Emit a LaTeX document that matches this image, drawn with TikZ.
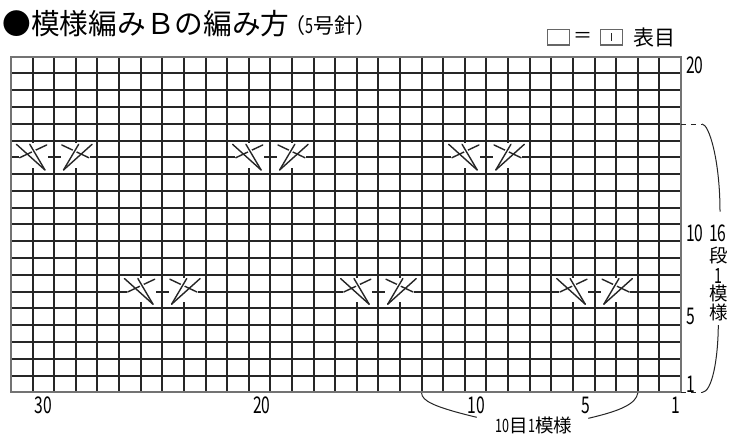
\documentclass[tikz,border=0pt]{standalone}
\usepackage{fontspec}
\usepackage{graphicx}
\setmainfont{Noto Sans CJK JP}
\newcommand\fsz[1]{\fontsize{#1pt}{#1pt}\selectfont}
\newcommand\nd[1]{\scalebox{0.68}[1]{#1}}
\newcommand\knithalf{%
  \fill[white] (-1.64,0.36) rectangle (-0.31,1.84);
  \draw[sym] (-1.6,0.98) -- (-0.35,1.74);
  \draw[sym, halo] (-1.13,1.78) -- (-0.43,0.25);
  \draw[sym] (-1.75,1.78) -- (-0.43,0.25);
}
\newcommand\knitpair[2]{%
  \begin{scope}[shift={(#1,#2)}, x=21.613pt, y=16.78pt]
    \knithalf
    \begin{scope}[xscale=-1]\knithalf\end{scope}
  \end{scope}}
\begin{document}
\begin{tikzpicture}[x=1pt, y=-1pt,
  gridline/.style={line width=1.6pt, draw=black!85},
  gridborder/.style={line width=1.6pt, draw=black!55},
  sym/.style={line width=1.4pt, draw=black!85, line cap=round},
  halo/.style={preaction={draw=white, line width=4pt}},
  lbl/.style={inner sep=0pt, font=\fsz{23}},
  jlbl/.style={inner sep=0pt, font=\fsz{18.5}},
  bracel/.style={line width=1pt, draw=black!85},
  dashline/.style={line width=1pt, draw=black!85, dash pattern=on 5pt off 5pt},
  legbox/.style={draw=black!60, line width=1.2pt, minimum width=22pt, minimum height=15.7pt, inner sep=0pt}]
\useasboundingbox (0,0) rectangle (743,434);
\fill[white] (0,0) rectangle (743,434);
% title
\node[inner sep=0pt, font=\fsz{28.7}] (title) at (146,23.4) {●模様編みＢの編み方};
\node[inner sep=0pt, font=\fsz{21}] (needle) at (330.7,26) {（\nd{5}号針）};
% legend
\node[legbox] (lbox1) at (558.3,37.2) {};
\node[inner sep=0pt, font=\fsz{19}] (leq) at (582.5,37.5) {＝};
\node[legbox] (lbox2) at (611.8,37.2) {};
\draw[line width=1pt, draw=black!85] ([yshift=4.2pt]lbox2.center) -- ([yshift=-4.2pt]lbox2.center);
\node[inner sep=0pt, font=\fsz{21}] (lomote) at (654,37.5) {表目};
% grid (snapped to whole pixels)
\foreach \i in {1,...,30} {
  \pgfmathsetmacro\gx{round(11+\i*21.613)}
  \draw[gridline] (\gx,57) -- (\gx,392);
}
\foreach \j in {1,...,19} {
  \pgfmathsetmacro\gy{round(56.7+\j*16.78)}
  \draw[gridline] (11,\gy) -- (681,\gy);
}
\draw[gridborder] (11,57) rectangle (681,392);
% symbols
\knitpair{54.23}{174.16}
\knitpair{270.36}{174.16}
\knitpair{486.49}{174.16}
\knitpair{162.29}{308.4}
\knitpair{378.42}{308.4}
\knitpair{594.55}{308.4}
% row numbers
\node[lbl, anchor=west] (r20) at (686,65.1) {\nd{20}};
\node[lbl, anchor=west] (r10) at (686,232.9) {\nd{10}};
\node[lbl, anchor=west] (r5) at (686,316.8) {\nd{5}};
\node[lbl, anchor=west] (r1) at (686,383.9) {\nd{1}};
% column numbers
\node[lbl] (c30) at (43.3,405) {\nd{30}};
\node[lbl] (c20) at (261.7,405) {\nd{20}};
\node[lbl] (c10) at (476,405) {\nd{10}};
\node[lbl] (c5) at (586,405) {\nd{5}};
\node[lbl] (c1) at (675.5,405) {\nd{1}};
% right brace
\coordinate (bt0) at (681,124);
\coordinate (bt1) at (702,124);
\coordinate (bt2) at (720,211.7);
\draw[dashline] (bt0) -- (bt1);
\draw[bracel] (bt1) .. controls (709,124) and (720,160) .. (bt2);
\coordinate (bb0) at (681,392.5);
\coordinate (bb1) at (702,392.5);
\coordinate (bb2) at (718.3,325);
\draw[dashline] (bb0) -- (bb1);
\draw[bracel] (bb2) .. controls (718,360) and (712,392) .. (bb1);
\node[jlbl, font=\fsz{23}] (s16) at (717.8,233) {\nd{16}};
\node[jlbl] (sdan) at (718.5,255.8) {段};
\node[jlbl, font=\fsz{21}] (s1) at (718.5,276) {\nd{1}};
\node[jlbl] (smo) at (718.5,293.6) {模};
\node[jlbl] (syo) at (718.5,312) {様};
% bottom brace
\coordinate (cl0) at (421.6,393);
\coordinate (cl1) at (476.7,417.3);
\coordinate (cr0) at (637.8,393);
\coordinate (cr1) at (588.3,418.3);
\draw[bracel] (cl0) .. controls (422,401) and (434,407) .. (cl1);
\draw[bracel] (cr1) .. controls (620,411) and (636,404) .. (cr0);
\node[inner sep=0pt, font=\fsz{18.5}] (rep) at (534,425.7) {\nd{10}目\nd{1}模様};
\end{tikzpicture}
\end{document}
